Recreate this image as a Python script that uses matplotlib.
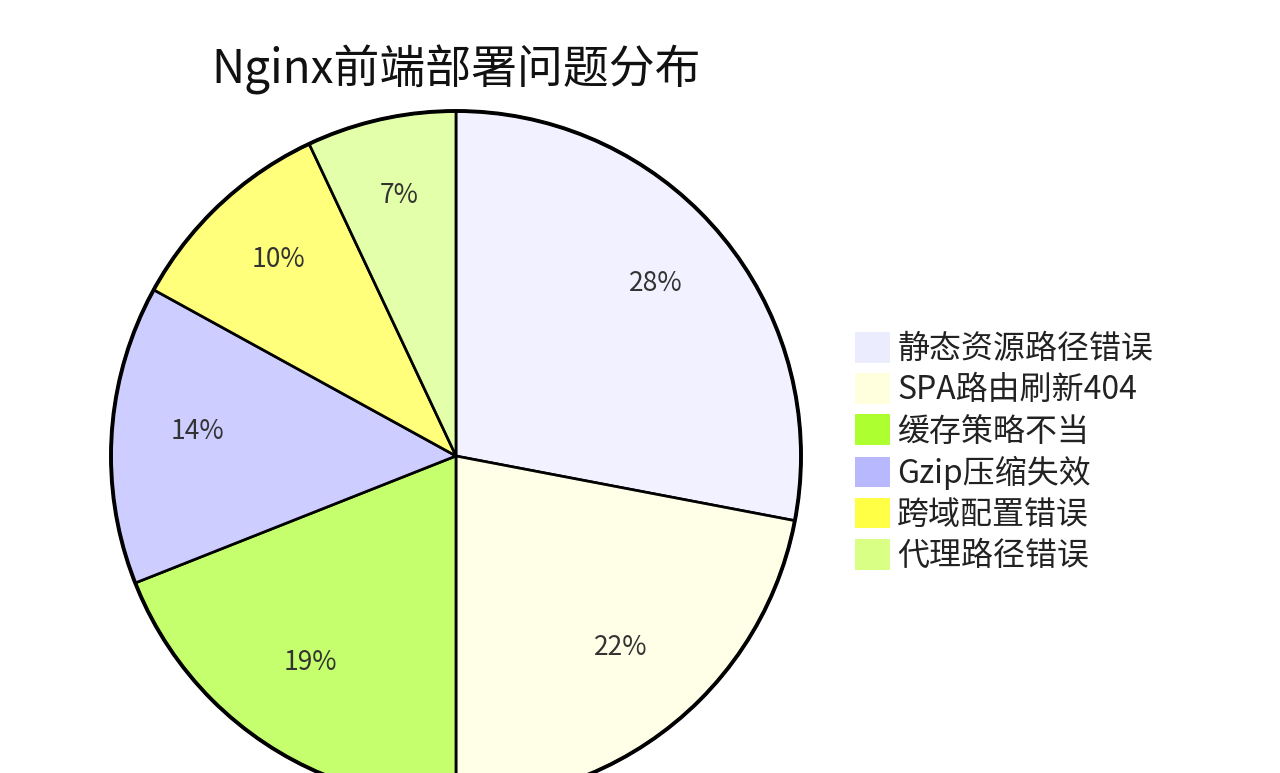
import matplotlib.pyplot as plt
from matplotlib.patches import Patch, Circle
from matplotlib.colors import to_rgba

plt.rcParams['font.family'] = ['Noto Sans CJK SC', 'DejaVu Sans']

title = "Nginx前端部署问题分布"
labels = ["静态资源路径错误", "SPA路由刷新404", "缓存策略不当",
          "Gzip压缩失效", "跨域配置错误", "代理路径错误"]
values = [28, 22, 19, 14, 10, 7]
colors = ["#ECECFF", "#FFFFDE", "#ADFF2F", "#B8B8FF", "#FFFF45", "#D9FF85"]

W, H = 1280, 773
fig = plt.figure(figsize=(W / 100, H / 100), dpi=100)
fig.patch.set_facecolor("white")
ax = fig.add_axes([0, 0, 1, 1])

cx, cy, r = 456, H - 456, 345

# slices drawn at 70% opacity, legend swatches at full colour
face = [to_rgba(c, 0.7) for c in colors]
wedges, texts, autotexts = ax.pie(
    values, colors=face, startangle=90, counterclock=False,
    center=(cx, cy), radius=r, autopct="%1.0f%%", pctdistance=0.75,
    wedgeprops=dict(edgecolor="black", linewidth=1.9),
    textprops=dict(fontsize=19, color="#333333"),
)
# the CJK font sits a bit low when centred, nudge labels up
for t in autotexts:
    x, y = t.get_position()
    t.set_position((x, y + 8))
ax.add_patch(Circle((cx, cy), r, fill=False, edgecolor="black", linewidth=2.8))

# pie() resets the limits, so pin them to pixel units afterwards
ax.set_xlim(0, W)
ax.set_ylim(0, H)
ax.set_aspect("equal")
ax.axis("off")

ax.text(cx, H - 70, title, ha="center", va="center", fontsize=33, color="#111111")

handles = [Patch(facecolor=c, edgecolor="none") for c in colors]
leg = ax.legend(handles, labels, loc="upper left",
                bbox_to_anchor=(855 / W, 1 - 332 / H), bbox_transform=fig.transFigure,
                frameon=False, fontsize=23, borderpad=0, borderaxespad=0,
                handlelength=1.1, handleheight=1.1, handletextpad=0.22,
                labelspacing=0.25)
for t in leg.get_texts():
    t.set_color("#222222")

fig.savefig("out.png", dpi=100, facecolor="white")
